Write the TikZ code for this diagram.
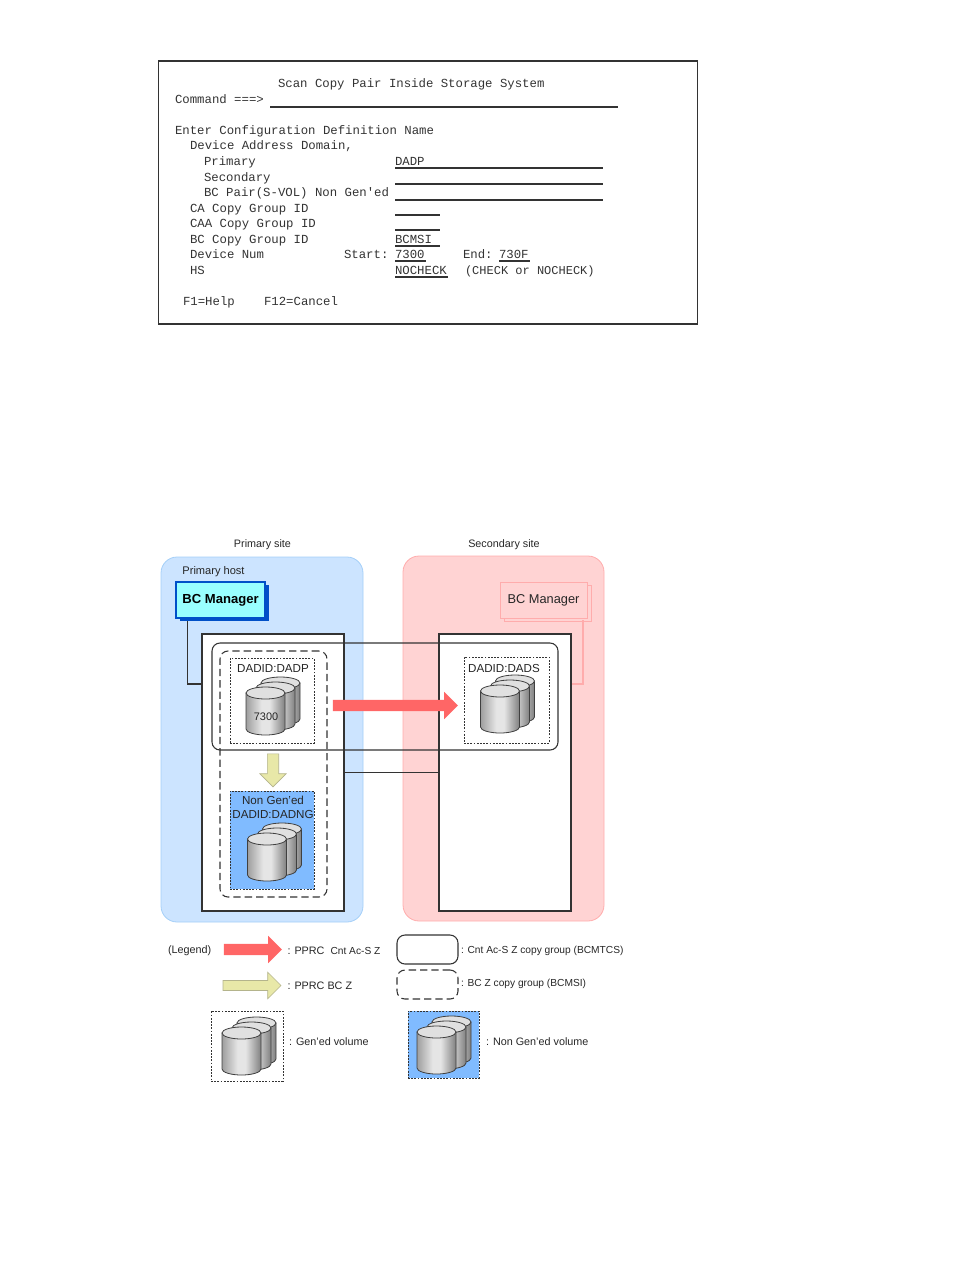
\documentclass[tikz,border=0pt]{standalone}
\usepackage{fontspec}
\setmainfont{Liberation Sans}
\setmonofont{Liberation Mono}
\usetikzlibrary{shapes.arrows}
\definecolor{bluesite}{HTML}{CCE4FF}
\definecolor{blueedge}{HTML}{A4CFF8}
\definecolor{pinksite}{HTML}{FFD3D3}
\definecolor{pinkedge}{HTML}{FFACAC}
\definecolor{nongen}{HTML}{80BBFF}
\definecolor{mgrfill}{HTML}{99FFFF}
\definecolor{mgredge}{HTML}{0050C8}
\definecolor{pprcred}{HTML}{FF6666}
\definecolor{pprcyel}{HTML}{E8E8A8}
\definecolor{yeledge}{HTML}{B4B48C}
\definecolor{inkgray}{HTML}{333333}
\pgfdeclarehorizontalshading{drumshade}{100bp}{
  rgb(0bp)=(0.62,0.62,0.62); rgb(25bp)=(0.62,0.62,0.62); rgb(45bp)=(0.90,0.90,0.90);
  rgb(55bp)=(0.90,0.90,0.90); rgb(75bp)=(0.50,0.50,0.50); rgb(100bp)=(0.50,0.50,0.50)}
\tikzset{
  size/.style 2 args={minimum width=#1*0.75pt, minimum height=#2*0.75pt},
  flat/.style={inner sep=0pt, outer sep=0pt},
  site/.style={flat, rectangle, rounded corners=12pt, line width=0.6pt},
  storage/.style={flat, draw=inkgray, fill=white, line width=0.8pt},
  solidgroup/.style={flat, draw=inkgray, rounded corners=6pt, line width=0.8pt},
  dashgroup/.style={flat, draw=inkgray, rounded corners=6pt, line width=0.8pt, dash pattern=on 5.5pt off 3pt},
  volbox/.style={flat, draw=inkgray, line width=0.6pt, dash pattern=on 1.3pt off 1.1pt},
  conn/.style={draw=inkgray, line width=0.8pt},
  bigarrow/.style={flat, single arrow, inner ysep=4.1pt, single arrow head extend=6pt, single arrow tip angle=90, fill=pprcred},
  yelarrow/.style={flat, single arrow, inner ysep=3.5pt, single arrow head extend=6.2pt, single arrow tip angle=90, fill=pprcyel, draw=yeledge, line width=0.5pt},
  scr/.style={flat, anchor=base west, text=inkgray, font=\fontsize{9.25}{10}\ttfamily\selectfont},
  scrline/.style={draw=inkgray, line width=0.8pt},
  lbl/.style={flat, text=black!85, font=\fontsize{8.1}{10}\selectfont},
  volbl/.style={flat, text=black!85, font=\fontsize{8.7}{10}\selectfont},
  legbl/.style={lbl, anchor=west},
  tinylbl/.style={flat, anchor=west, text=black!85, font=\fontsize{7.65}{10}\selectfont},
  pics/drum/.style={code={
    \foreach \dx/\dy in {15/-10, 10/-5, 0/0} {
      \draw[draw=black!75, line width=0.6pt, shading=drumshade]
        (\dx-19.5,\dy) -- (\dx-19.5,\dy+36)
        arc[start angle=180, end angle=0, x radius=19.5, y radius=6]
        -- (\dx+19.5,\dy) -- cycle;
      \draw[draw=black!75, line width=0.6pt, fill=black!12] (\dx,\dy) ellipse[x radius=19.5, y radius=6];
    }
  }}
}
\begin{document}
\begin{tikzpicture}[x=0.75pt, y=-0.75pt]
  \useasboundingbox (0,0) rectangle (954,1270);

  % Screen panel
  \node[flat, draw=inkgray, line width=0.8pt, size={539}{263}] (panel) at (428,192.5) {};
  \node[scr] (title) at (278,88) {Scan Copy Pair Inside Storage System};
  \node[scr] (cmd) at (175,103.5) {Command ===>};
  \node[scr] (enter) at (175,134) {Enter Configuration Definition Name};
  \node[scr] (domain) at (190,149) {Device Address Domain,};
  \node[scr] (prim) at (204,165) {Primary};
  \node[scr] (primval) at (395,165) {DADP};
  \node[scr] (sec) at (204,181) {Secondary};
  \node[scr] (pair) at (204,196) {BC Pair(S-VOL) Non Gen'ed};
  \node[scr] (ca) at (190,212) {CA Copy Group ID};
  \node[scr] (caa) at (190,227) {CAA Copy Group ID};
  \node[scr] (bc) at (190,243) {BC Copy Group ID};
  \node[scr] (bcval) at (395,243) {BCMSI};
  \node[scr] (dev) at (190,258) {Device Num};
  \node[scr] (start) at (344,258) {Start:};
  \node[scr] (startval) at (395,258) {7300};
  \node[scr] (endtxt) at (463,258) {End:};
  \node[scr] (endval) at (499,258) {730F};
  \node[scr] (hs) at (190,274) {HS};
  \node[scr] (hsval) at (395,274) {NOCHECK};
  \node[scr, font=\fontsize{9}{10}\ttfamily\selectfont] (hsopt) at (465,274) {(CHECK or NOCHECK)};
  \node[scr] (fkeys) at (183,305) {F1=Help};
  \node[scr] (fcancel) at (264,305) {F12=Cancel};
  \draw[scrline] (270,107) -- (618,107);
  \draw[scrline] (395,168) -- (603,168);
  \draw[scrline] (395,184) -- (603,184);
  \draw[scrline] (395,200) -- (603,200);
  \draw[scrline] (395,215) -- (440,215);
  \draw[scrline] (395,230) -- (440,230);
  \draw[scrline] (395,246) -- (440,246);
  \draw[scrline] (395,261) -- (426,261);
  \draw[scrline] (499,261) -- (530,261);
  \draw[scrline] (395,277) -- (448,277);

  % Sites
  \node[lbl] (psitelbl) at (262.5,545) {Primary site};
  \node[lbl] (ssitelbl) at (504,545) {Secondary site};
  \node[site, draw=blueedge, fill=bluesite, size={202}{365}] (psite) at (262,739.5) {};
  \node[site, draw=pinkedge, fill=pinksite, size={201}{365}] (ssite) at (503.5,738.5) {};
  \node[lbl, font=\fontsize{8.3}{10}\selectfont] (phost) at (213.5,571.5) {Primary host};

  % Managers
  \coordinate (pfoot) at (187.5,620);
  \coordinate (ptap) at (202,684);
  \coordinate (sfoot) at (583,620);
  \coordinate (stap) at (571,684);
  \draw[conn] (pfoot) |- (ptap);
  \draw[draw=pinkedge, line width=0.8pt] (sfoot) |- (stap);
  \node[flat, fill=mgredge, size={89}{36}] (pshadow) at (224.5,603) {};
  \node[flat, draw=mgredge, fill=mgrfill, line width=0.9pt, size={89}{36}, text=black,
    font=\fontsize{9.8}{10}\bfseries\selectfont] (pmgr) at (220.5,600) {BC Manager};
  \node[flat, draw=pinkedge, line width=0.7pt, size={87}{36}] (sshadow) at (547.5,603) {};
  \node[flat, draw=pinkedge, fill=pinksite, line width=0.7pt, size={87}{36}, text=black!85,
    font=\fontsize{9.6}{10}\selectfont] (smgr) at (543.5,600) {BC Manager};

  % Storage boxes
  \node[storage, size={142}{277}] (pbox) at (273,772.5) {};
  \node[storage, size={132}{277}] (sbox) at (505,772.5) {};
  \draw[conn] (pbox) -- (sbox);

  % Volumes
  \node[volbox, size={84}{85}] (dadp) at (272,700.5) {};
  \node[volbox, size={85}{86}] (dads) at (506.5,700) {};
  \node[volbox, fill=nongen, size={84}{98}] (dadng) at (272,840) {};
  \node[volbl] (dadplbl) at (273,668.5) {DADID:DADP};
  \node[volbl] (dadslbl) at (504,668.5) {DADID:DADS};
  \node[volbl] (nglbl) at (273,800.5) {Non Gen'ed};
  \node[volbl] (dadnglbl) at (273,814.5) {DADID:DADNG};
  \pic at (265.5,693) {drum};
  \pic at (500,691) {drum};
  \pic at (267,839) {drum};
  \node[flat, font=\fontsize{8.2}{10}\selectfont, text=black!85] (devlbl) at (266,716.5) {7300};

  % Copy groups
  \node[solidgroup, size={346}{107}] (bcmtcs) at (385,696.5) {};
  \node[dashgroup, size={107}{246}] (bcmsi) at (273.5,774) {};

  % Pair arrows
  \node[bigarrow, minimum height=125*0.75pt] (cntarrow) at (392.5,705.5) {};
  \node[yelarrow, rotate=-90, inner ysep=4pt, single arrow head extend=5.6pt, minimum height=33*0.75pt] (bcarrow) at (273,767.5) {};

  % Legend
  \node[lbl, anchor=west] (legend) at (168,950.5) {(Legend)};
  \node[bigarrow, minimum height=58*0.75pt] (legcnt) at (250,949.5) {};
  \node[legbl] (legcntlbl) at (287.5,950.5) {: PPRC\ \ {\fontsize{7.65}{10}\selectfont Cnt Ac-S Z}};
  \node[yelarrow, minimum height=58*0.75pt] (legbc) at (249.5,985.5) {};
  \node[legbl] (legbclbl) at (287.5,986) {: PPRC BC Z};
  \node[flat, draw=inkgray, line width=0.8pt, rounded corners=6pt, size={61}{29}] (legsolid) at (427.5,949.5) {};
  \node[tinylbl] (legsolidlbl) at (461,950.5) {: Cnt Ac-S Z copy group (BCMTCS)};
  \node[dashgroup, size={61}{29}] (legdash) at (427.5,984.5) {};
  \node[tinylbl] (legdashlbl) at (461,984) {: BC Z copy group (BCMSI)};
  \node[volbox, size={72}{70}] (leggen) at (247,1046) {};
  \pic at (241.5,1033) {drum};
  \node[legbl] (leggenlbl) at (289,1042) {: Gen'ed volume};
  \node[volbox, fill=nongen, size={71}{67}] (legng) at (443.5,1044.5) {};
  \pic at (436.5,1032) {drum};
  \node[legbl] (legnglbl) at (486,1042) {: Non Gen'ed volume};
\end{tikzpicture}
\end{document}
